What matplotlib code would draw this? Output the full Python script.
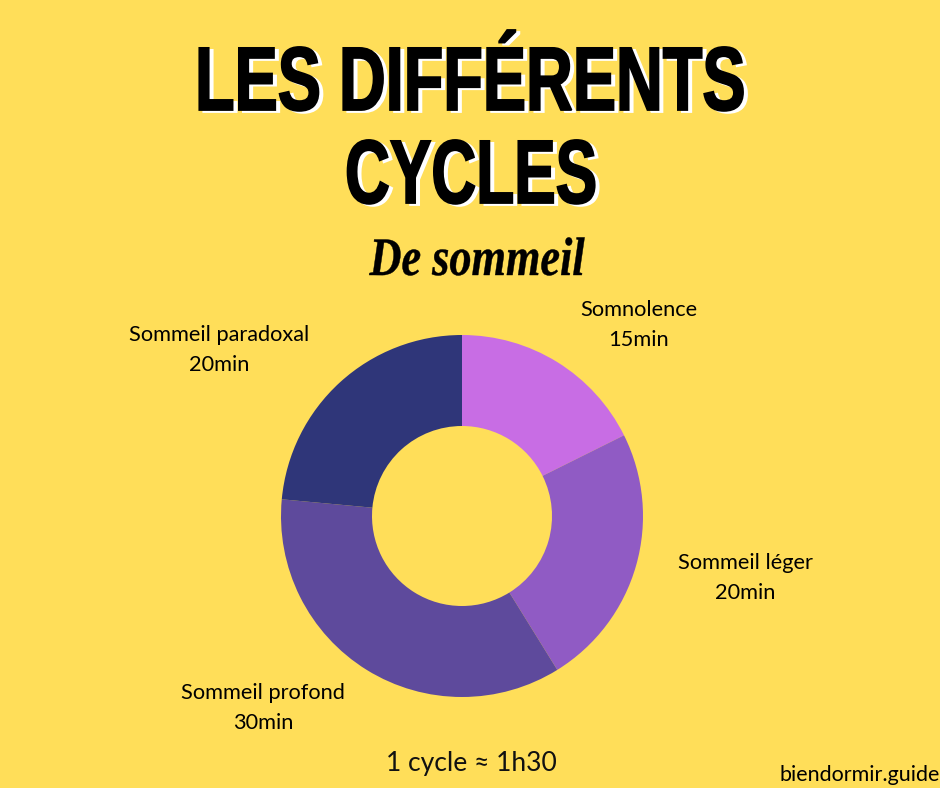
import matplotlib
matplotlib.use('Agg')
import matplotlib.pyplot as plt
import matplotlib.patheffects as pe
from matplotlib.transforms import Affine2D

# minutes per stage, clockwise from 12 o'clock
stages = ['Somnolence', 'Sommeil léger', 'Sommeil profond', 'Sommeil paradoxal']
minutes = [15, 20, 30, 20]
labels = ['15min', '20min', '30min', '20min']
colors = ['#C86DE4', '#905BC4', '#5E4A9C', '#2F3679']
bg = '#FFDE59'

plt.rcParams['font.family'] = ['Lato', 'DejaVu Sans']


# no condensed font installed, so squeeze the glyph outlines around the text centre
class Squeeze(pe.AbstractPathEffect):
    def __init__(self, sx, cx, dx=0, dy=0, color='black', lw=0):
        super().__init__()
        self.sx, self.cx, self.dx, self.dy = sx, cx, dx, dy
        self.color, self.lw = color, lw

    def draw_path(self, renderer, gc, tpath, affine, rgbFace=None):
        aff = affine + Affine2D().translate(-self.cx, 0).scale(self.sx, 1).translate(self.cx + self.dx, self.dy)
        gc0 = renderer.new_gc()
        gc0.copy_properties(gc)
        gc0.set_foreground(self.color)
        gc0.set_linewidth(self.lw)
        gc0.set_joinstyle('miter')
        renderer.draw_path(gc0, tpath, aff, matplotlib.colors.to_rgba(self.color))
        gc0.restore()


fig = plt.figure(figsize=(9.4, 7.88), dpi=100, facecolor=bg)

# axes cover the whole figure, 1 data unit = 1 pixel
ax = fig.add_axes([0, 0, 1, 1])


def y(px):
    return 788 - px


ax.pie(minutes, colors=colors, startangle=90, counterclock=False, radius=181,
       center=(462, y(516)), wedgeprops={'width': 91, 'linewidth': 0})
ax.set_aspect('auto')
ax.set_xlim(0, 940)
ax.set_ylim(0, 788)
ax.axis('off')

# title lines: text, baseline, centre x, width in pixels
renderer = fig.canvas.get_renderer()
for txt, py, cx, width in [('LES DIFFÉRENTS', 110, 470, 550), ('CYCLES', 203, 471, 252)]:
    t = ax.text(cx, y(py), txt, ha='center', va='baseline', fontsize=65,
                family='Liberation Sans', fontweight='bold', color='black')
    sx = width / t.get_window_extent(renderer).width
    t.set_path_effects([Squeeze(sx, cx, dx=4, dy=-2, color='white', lw=1.3),
                        Squeeze(sx, cx, color='black', lw=1.3)])

t = ax.text(477, y(275), 'De sommeil', ha='center', va='baseline', fontsize=39, style='italic',
            fontweight='bold', family='Liberation Serif', color='black')
sx = 215 / t.get_window_extent(renderer).width
t.set_path_effects([Squeeze(sx, 477, color='black', lw=0.3)])

label_pos = [(639, 325), (745, 578), (263, 708), (219, 350)]
for name, lab, (px, py) in zip(stages, labels, label_pos):
    ax.text(px, y(py), name + '\n' + lab, ha='center', va='center', fontsize=15.7,
            linespacing=1.64, color='black')

ax.text(471, y(764), '1 cycle ≈ 1h30', ha='center', va='center', fontsize=19.1, color='#111111')
ax.text(940, y(775), 'biendormir.guide', ha='right', va='center', fontsize=15.5, color='black')

fig.savefig('out.png', dpi=100, facecolor=bg)
